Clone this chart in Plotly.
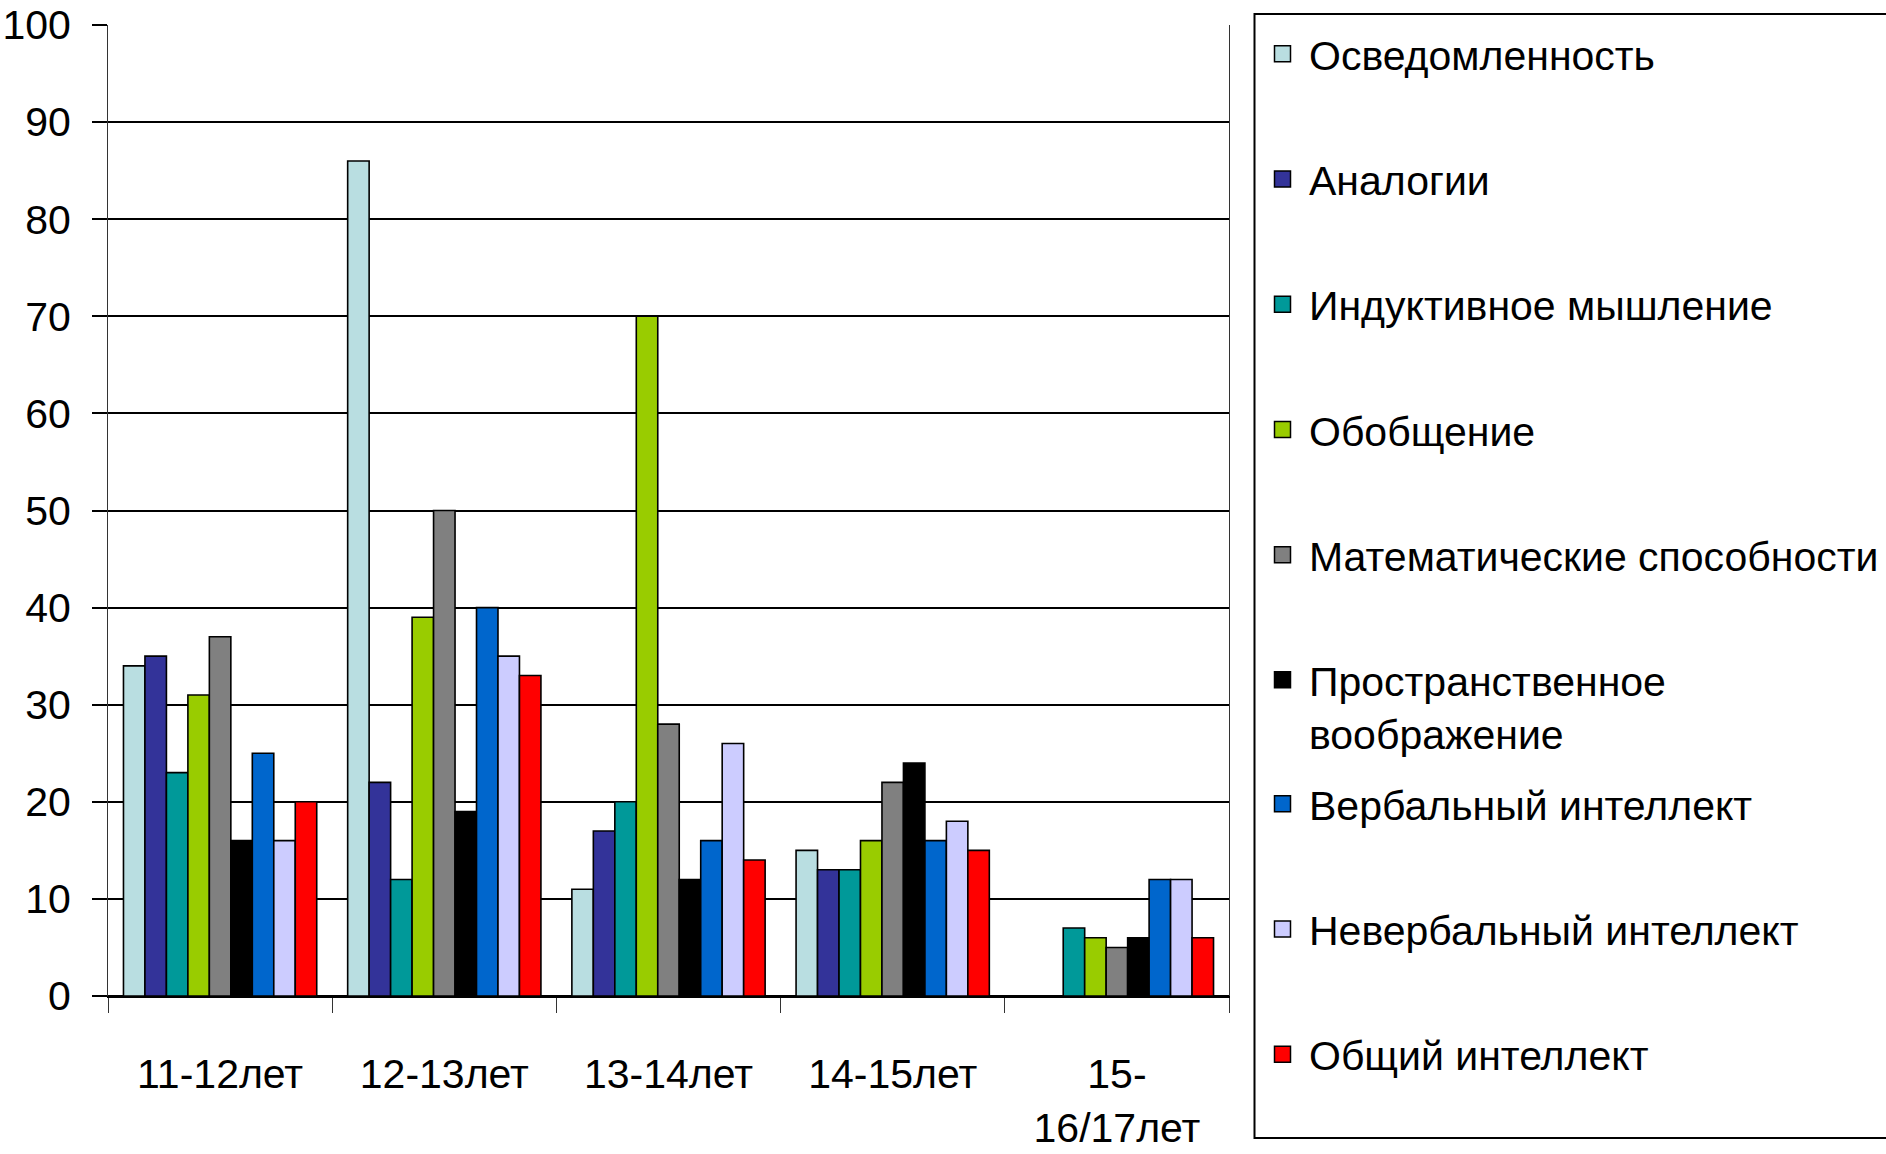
import plotly.graph_objects as go

# ---- data ----
categories = ["11-12лет", "12-13лет", "13-14лет", "14-15лет", "15-<br>16/17лет"]

osvedomlennost = [34, 86, 11, 15, None]
analogii = [35, 22, 17, 13, None]
induktivnoe = [23, 12, 20, 13, 7]
obobshchenie = [31, 39, 70, 16, 6]
matematicheskie = [37, 50, 28, 22, 5]
prostranstvennoe = [16, 19, 12, 24, 6]
verbalny = [25, 40, 16, 16, 12]
neverbalny = [16, 35, 26, 18, 12]
obshchiy = [20, 33, 14, 15, 6]

series_names = [
    "Осведомленность",
    "Аналогии",
    "Индуктивное мышление",
    "Обобщение",
    "Математические способности",
    "Пространственное<br>воображение",
    "Вербальный интеллект",
    "Невербальный интеллект",
    "Общий интеллект",
]
series_values = [
    osvedomlennost, analogii, induktivnoe, obobshchenie, matematicheskie,
    prostranstvennoe, verbalny, neverbalny, obshchiy,
]
series_colors = [
    "#B9DEE1", "#333399", "#009999", "#99CC00", "#808080",
    "#000000", "#0066CC", "#CCCCFF", "#FF0000",
]
# which legend block each series is listed in (for spacing like the original)
legend_blocks = ["legend"] * 5 + ["legend2"] + ["legend3"] * 3

y_ticks = list(range(0, 101, 10))

FONT = "Liberation Sans, Arial, sans-serif"

fig = go.Figure()
for i, (name, vals, col, lg) in enumerate(zip(series_names, series_values, series_colors, legend_blocks)):
    fig.add_trace(go.Bar(
        x=categories, y=vals, name=name,
        marker=dict(color=col, line=dict(color="#000000", width=1.6)),
        legendgroup=f"g{i}", showlegend=False,
    ))
    # legend entry (larger square swatch) tied to the bar series
    fig.add_trace(go.Scatter(
        x=[None], y=[None], name=name, mode="markers",
        marker=dict(symbol="square", size=16, color=col,
                    line=dict(color="#000000", width=1.5)),
        legendgroup=f"g{i}", showlegend=True, hoverinfo="skip",
        legend=lg,
    ))

W, H = 1886, 1154
L, R, T, B = 108, 657, 25, 158
PW, PH = W - L - R, H - T - B

legend_common = dict(
    xref="container", yref="container",
    x=1256 / W, xanchor="left", yanchor="top",
    borderwidth=0, bgcolor="rgba(0,0,0,0)",
    font=dict(family=FONT, size=41, color="#000000"),
    tracegroupgap=69, valign="top",
    itemsizing="trace", itemwidth=43, maxheight=1150,
)

fig.update_layout(
    width=W, height=H,
    margin=dict(l=L, r=R, t=T, b=B, pad=0, autoexpand=False),
    paper_bgcolor="white", plot_bgcolor="white",
    barmode="group", bargap=0.138, bargroupgap=0,
    font=dict(family=FONT, size=40, color="#000000"),
    legend=dict(legend_common, y=1 - 20.5 / H),
    legend2=dict(legend_common, y=1 - 646.5 / H),
    legend3=dict(legend_common, y=1 - 770.5 / H),
    showlegend=True,
)

# legend frame
fig.add_shape(
    type="rect", xref="paper", yref="paper",
    x0=(1254.5 - L) / PW, x1=(1895 - L) / PW,
    y0=(H - B - 1138) / PH, y1=(H - B - 14) / PH,
    line=dict(color="#000000", width=2), fillcolor="rgba(0,0,0,0)",
    layer="above",
)

fig.update_xaxes(
    type="category", automargin=False,
    tickson="boundaries",
    ticks="outside", ticklen=15, tickwidth=1, tickcolor="#333333",
    showline=True, linecolor="#000000", linewidth=2,
    showgrid=False,
    tickfont=dict(family=FONT, size=41, color="#000000"),
    ticklabelstandoff=41,
)
fig.update_yaxes(
    range=[0, 100], automargin=False,
    tickvals=y_ticks,
    ticks="outside", ticklen=15, tickwidth=2, tickcolor="#000000",
    showgrid=True, gridcolor="#000000", gridwidth=2,
    zeroline=True, zerolinecolor="#000000", zerolinewidth=2,
    showline=True, linecolor="#333333", linewidth=1, mirror=True,
    tickfont=dict(family=FONT, size=41, color="#000000"),
    ticklabelstandoff=13,
)

fig.write_html(
    "out.html",
    config={"displayModeBar": False},
    post_script="document.body.style.margin='0';",
)
